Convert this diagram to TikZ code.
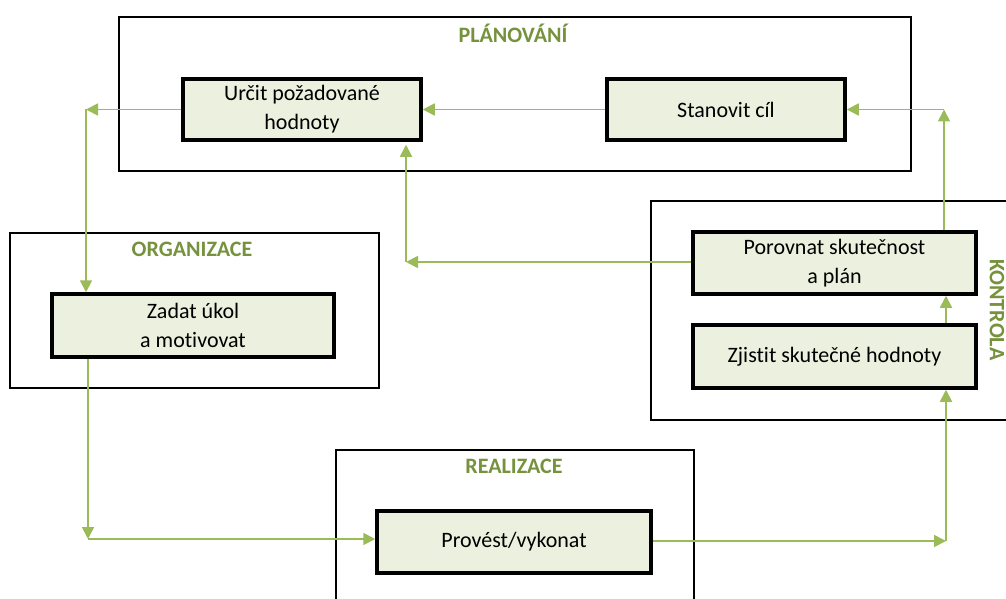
\documentclass[tikz,border=0pt]{standalone}
\usepackage{fontspec}
\setmainfont{Carlito}[RawFeature={-liga;-clig}]
\usetikzlibrary{arrows.meta}
\definecolor{boxfill}{HTML}{EBF1DE}
\definecolor{titlegreen}{HTML}{76923C}
\definecolor{linkgreen}{HTML}{9BBB59}
\begin{document}
\begin{tikzpicture}[x=1pt,y=-1pt,
  stepbox/.style={draw=black,line width=3.5pt,fill=boxfill,align=center,
    inner sep=0pt,font=\fontsize{22}{29}\selectfont},
  areabox/.style={draw=black,line width=2pt},
  areatitle/.style={text=titlegreen,font=\fontsize{22}{26}\selectfont\bfseries},
  link/.style={draw=linkgreen,line width=1.8pt,-{Triangle[length=12pt,width=12pt]}}]
\clip (0,0) rectangle (1006,599);
\fill[white] (0,0) rectangle (1006,599);

% phase frames
\draw[areabox] (119,17) rectangle (911,171);
\draw[areabox] (10,233) rectangle (379,388);
\draw[areabox] (651,201) rectangle (1020,420);
\draw[areabox] (336,450) rectangle (694,620);

% phase titles
\node[areatitle] (tplan) at (513,33) {PLÁNOVÁNÍ};
\node[areatitle] (torg) at (192,249) {ORGANIZACE};
\node[areatitle] (treal) at (514,466) {REALIZACE};
\node[areatitle,rotate=-90] (tkon) at (997,310) {KONTROLA};

% steps
\node[stepbox,minimum width=238pt,minimum height=61pt] (urcit) at (302,109.5) {Určit požadované\\hodnoty};
\node[stepbox,minimum width=238pt,minimum height=61pt] (cil) at (726,109.5) {Stanovit cíl};
\node[stepbox,minimum width=282pt,minimum height=63pt] (zadat) at (193,325.5) {Zadat úkol\\a motivovat};
\node[stepbox,minimum width=283pt,minimum height=62pt] (porov) at (834.5,263) {Porovnat skutečnost\\a plán};
\node[stepbox,minimum width=283pt,minimum height=63pt] (zjist) at (834.5,356.5) {Zjistit skutečné hodnoty};
\node[stepbox,minimum width=274pt,minimum height=62pt] (prov) at (514,542) {Provést/vykonat};

% bends of the connectors
\coordinate (b1) at (86,109.5);
\coordinate (b2) at (88,539);
\coordinate (b3) at (946,541);
\coordinate (b4) at (944,109.5);
\coordinate (b5) at (406,262);

% flow
\draw[link] (cil.west) -- (urcit.east);
\draw[link] (urcit.west) -- (b1);
\draw[link] (b1) -- (b1 |- zadat.north);
\draw[link] (b2 |- zadat.south) -- (b2);
\draw[link] (b2) -- (b2 -| prov.west);
\draw[link] (prov.east |- b3) -- (b3);
\draw[link] (b3) -- (b3 |- zjist.south);
\draw[link] (b3 |- zjist.north) -- (b3 |- porov.south);
\draw[link] (b4 |- porov.north) -- (b4);
\draw[link] (b4) -- (b4 -| cil.east);
\draw[link] (porov.west |- b5) -- (b5);
\draw[link] (b5) -- ([yshift=-3pt]b5 |- urcit.south);
\end{tikzpicture}
\end{document}
